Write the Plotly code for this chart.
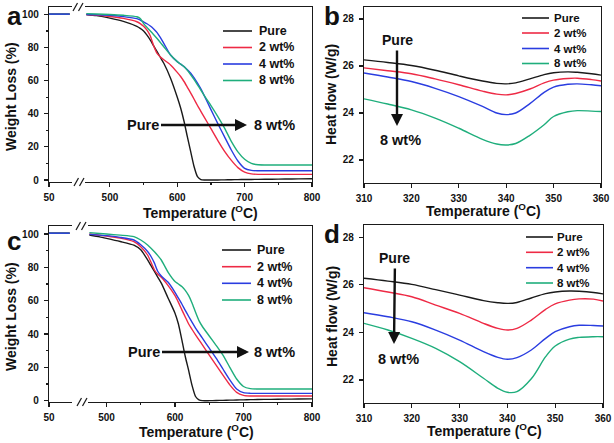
import plotly.graph_objects as go

W, H = 614, 443
FONT = "Liberation Sans, Arial, sans-serif"
INK = "#1a1a1a"

def px(x):
    return x / W

def py(y):
    return 1 - y / H

series_names = ["Pure", "2 wt%", "4 wt%", "8 wt%"]
colors = ["#1a1a1a", "#ee2a45", "#2a3de0", "#1fae7c"]

# ---------------- TGA (panels a, c) ----------------
tga_low_temp = [50, 95]
tga_a_low = [100.2, 100.2]
tga_c_low = [100.5, 100.5]

tga_a_temp = [465, 480, 500, 520, 540, 545, 550, 555, 560, 565, 570, 575, 580, 590, 600, 605,
              610, 615, 620, 625, 630, 635, 640, 650, 660, 670, 680, 690, 700, 710, 720, 740,
              760, 780, 800]
tga_a_pure = [100, 99.3, 97.8, 95.8, 92.8, 91.6, 90, 87.5, 84.5, 81, 77.5, 74, 70.5, 61.5, 50, 43.5,
              35.5, 26, 17, 8, 2, 0.3, 0, 0, 0.05, 0.1, 0.2, 0.25, 0.3, 0.35, 0.4, 0.5,
              0.6, 0.7, 0.8]
tga_a_2wt = [100, 99.6, 98.8, 97.6, 95.6, 94.5, 92.8, 90.5, 87, 81, 76.5, 74.3, 72.6, 69.5, 65, 62.5,
             59.5, 56, 52.5, 48.8, 45, 41.5, 38, 31, 24, 17.5, 12, 7.5, 4.8, 3.7, 3.4, 3.4,
             3.4, 3.4, 3.4]
tga_a_4wt = [100, 99.8, 99.5, 98.7, 97.5, 96.6, 95.5, 94.4, 93, 91.2, 89, 86, 82.5, 75.5, 71.5, 70,
             68.5, 66.6, 64.5, 61.7, 58.5, 55, 51, 42.5, 34.2, 26.2, 18.3, 11.5, 7, 5.8, 5.6, 5.6,
             5.6, 5.6, 5.6]
tga_a_8wt = [100.5, 100.3, 100, 99.5, 98.6, 97.5, 94.5, 92.2, 90, 87.8, 85.5, 83, 80.5, 75.5, 71.5, 70,
             68.5, 66.2, 63.5, 60.6, 57.5, 54.3, 51, 45, 38.5, 31.5, 23.5, 17, 12.5, 10, 9.2, 9.1,
             9.1, 9.1, 9.1]

tga_c_temp = [475, 490, 500, 520, 540, 550, 560, 565, 570, 575, 580, 590, 600, 605, 610, 615,
              620, 625, 630, 635, 640, 650, 660, 670, 680, 690, 700, 710, 720, 740, 760, 780, 800]
tga_c_pure = [99.4, 98.3, 97.4, 95.5, 93.3, 90.5, 84.5, 81, 77.5, 74, 70.5, 61.5, 52.5, 46, 36.5, 26.5,
              18, 9, 2.5, 0.5, 0, 0, 0.1, 0.2, 0.3, 0.4, 0.5, 0.6, 0.7, 0.8, 0.9, 1.0, 1.1]
tga_c_2wt = [100, 99.3, 98.8, 97.5, 95.4, 92.4, 87.4, 83, 78.4, 75.8, 74, 69, 63, 59, 54.5, 50.2,
             46, 42.7, 39.5, 36.5, 33.5, 27.3, 21.3, 15.3, 9.5, 5, 3.2, 2.8, 2.8, 2.8, 2.8, 2.8, 2.8]
tga_c_4wt = [99.8, 99.3, 99, 98, 96.4, 93.5, 89.5, 86.5, 82.5, 77.5, 74.8, 71, 65, 61.5, 58, 54.2,
             50.5, 47, 43.5, 40.5, 37.5, 31.5, 25.5, 19, 12.5, 7, 4.8, 4.4, 4.4, 4.4, 4.4, 4.4, 4.4]
tga_c_8wt = [100.8, 100.3, 100, 99.3, 98.4, 96.4, 93.4, 91.5, 89.4, 87, 84.4, 77, 71.5, 70, 68.5, 66.2,
             63, 58.5, 53, 48, 44.5, 38.8, 33.2, 27.3, 20, 13, 8.5, 7.2, 7.0, 7, 7, 7, 7]

# ---------------- DSC (panels b, d) ----------------
dsc_temp = [310, 315, 320, 325, 330, 335, 338, 340, 342, 345, 348, 350, 353, 355, 358, 360]
dsc_b_pure = [26.26, 26.15, 26.02, 25.82, 25.58, 25.36, 25.26, 25.24, 25.28, 25.45, 25.63, 25.71, 25.75, 25.73, 25.67, 25.61]
dsc_b_2wt = [25.92, 25.8, 25.67, 25.45, 25.2, 24.93, 24.8, 24.77, 24.83, 25.02, 25.28, 25.4, 25.47, 25.48, 25.42, 25.36]
dsc_b_4wt = [25.70, 25.53, 25.34, 25.05, 24.70, 24.28, 24.0, 23.93, 24.0, 24.4, 24.88, 25.1, 25.22, 25.24, 25.2, 25.16]
dsc_b_8wt = [24.6, 24.38, 24.13, 23.78, 23.35, 22.88, 22.68, 22.64, 22.7, 23.05, 23.5, 23.85, 24.05, 24.1, 24.08, 24.06]

dsc_d_pure = [26.28, 26.16, 26.02, 25.8, 25.57, 25.34, 25.25, 25.22, 25.26, 25.45, 25.63, 25.7, 25.74, 25.73, 25.68, 25.62]
dsc_d_2wt = [25.88, 25.7, 25.5, 25.15, 24.8, 24.38, 24.17, 24.1, 24.17, 24.52, 24.97, 25.2, 25.36, 25.41, 25.4, 25.32]
dsc_d_4wt = [24.83, 24.66, 24.45, 24.1, 23.68, 23.19, 22.95, 22.87, 22.94, 23.26, 23.75, 24.03, 24.24, 24.3, 24.29, 24.27]
dsc_d_8wt = [24.38, 24.1, 23.75, 23.33, 22.77, 22.07, 21.65, 21.48, 21.51, 22.05, 22.98, 23.43, 23.72, 23.79, 23.82, 23.82]

tga_ticks = [0, 20, 40, 60, 80, 100]
tga_xticks = [500, 600, 700, 800]
dsc_xticks = [310, 320, 330, 340, 350, 360]
dsc_yticks = [22, 24, 26, 28]

fig = go.Figure()

def add_lines(xs, ys_list, xa, ya, smoothing, order=(0, 1, 2, 3)):
    for i in order:
        fig.add_trace(go.Scatter(
            x=xs, y=ys_list[i], mode="lines", name=series_names[i], showlegend=False,
            line=dict(color=colors[i], width=1.4, shape="spline", smoothing=smoothing),
            xaxis=xa, yaxis=ya, hoverinfo="skip"))

low_order = (0, 1, 3, 2)  # blue drawn last on the short pre-break segment
# panel a
add_lines(tga_low_temp, [tga_a_low] * 4, "x", "y", 0, low_order)
add_lines(tga_a_temp, [tga_a_pure, tga_a_2wt, tga_a_4wt, tga_a_8wt], "x2", "y2", 0.6)
# panel b
add_lines(dsc_temp, [dsc_b_pure, dsc_b_2wt, dsc_b_4wt, dsc_b_8wt], "x3", "y3", 1.0)
# panel c
add_lines(tga_low_temp, [tga_c_low] * 4, "x4", "y4", 0, low_order)
add_lines(tga_c_temp, [tga_c_pure, tga_c_2wt, tga_c_4wt, tga_c_8wt], "x5", "y5", 0.6)
# panel d
add_lines(dsc_temp, [dsc_d_pure, dsc_d_2wt, dsc_d_4wt, dsc_d_8wt], "x6", "y6", 1.0)

tickfont = dict(family=FONT, size=10, color="#111", weight="bold")
base = dict(showline=True, linecolor=INK, linewidth=1.2, showgrid=False, zeroline=False,
            ticks="outside", ticklen=4, tickwidth=1.1, tickcolor=INK, tickfont=tickfont,
            automargin=False)

def xseg(dom, rng, ticks, anchor, minor=None):
    d = dict(base, domain=[px(dom[0]), px(dom[1])], range=rng, tickvals=ticks,
             anchor=anchor, mirror=True, ticklabelstandoff=2)
    if minor:
        d["minor"] = dict(tickvals=minor, ticklen=2, ticks="outside", tickcolor=INK)
    return d

def yleft(dom, rng, ticks, anchor, minor=None, mirror=False):
    d = dict(base, domain=[py(dom[1]), py(dom[0])], range=rng, tickvals=ticks,
             anchor=anchor, mirror=mirror, ticklabelstandoff=3)
    if minor:
        d["minor"] = dict(tickvals=minor, ticklen=2, ticks="outside", tickcolor=INK)
    return d

def yright(dom, rng, anchor):
    return dict(showline=True, linecolor=INK, linewidth=1.2, showgrid=False, zeroline=False,
                domain=[py(dom[1]), py(dom[0])], range=rng, anchor=anchor, side="right",
                ticks="", showticklabels=False, automargin=False)

tga_minor_y = [10, 30, 50, 70, 90]
tga_minor_x = [550, 650, 750]

ya_rng = [-1.2, 104.5]
yc_rng = [-0.8, 104.8]
yb_rng = [21.02, 28.51]
yd_rng = [21.03, 28.52]

fig.update_layout(
    width=W, height=H, autosize=False,
    margin=dict(l=0, r=0, t=0, b=0, autoexpand=False),
    paper_bgcolor="white", plot_bgcolor="white",
    font=dict(family=FONT, color="#111"),
    showlegend=False,
    xaxis=xseg((49, 72), [50, 100], [50], "y"),
    xaxis2=xseg((85, 312), [463, 800], tga_xticks, "y2", tga_minor_x),
    yaxis=yleft((7, 182), ya_rng, tga_ticks, "x", tga_minor_y),
    yaxis2=yright((7, 182), ya_rng, "x2"),
    xaxis3=xseg((364, 601), [310, 360], dsc_xticks, "y3"),
    yaxis3=yleft((7, 183), yb_rng, dsc_yticks, "x3", mirror=True),
    xaxis4=xseg((49, 72), [50, 100], [50], "y4"),
    xaxis5=xseg((88, 312), [473, 800], tga_xticks, "y5", tga_minor_x),
    yaxis4=yleft((226, 402), yc_rng, tga_ticks, "x4", tga_minor_y),
    yaxis5=yright((226, 402), yc_rng, "x5"),
    xaxis6=xseg((364, 603), [310, 360], dsc_xticks, "y6"),
    yaxis6=yleft((225, 403), yd_rng, dsc_yticks, "x6", mirror=True),
)

shapes = []
annotations = []

def line_px(x0, y0, x1, y1, color=INK, width=1.2):
    shapes.append(dict(type="line", xref="paper", yref="paper",
                       x0=px(x0), y0=py(y0), x1=px(x1), y1=py(y1),
                       line=dict(color=color, width=width)))

def text_px(x, y, text, size, xanchor="center", yanchor="middle", angle=0):
    annotations.append(dict(xref="paper", yref="paper", x=px(x), y=py(y), text=text,
                            showarrow=False, xanchor=xanchor, yanchor=yanchor,
                            textangle=angle,
                            font=dict(family=FONT, size=size, color="#111", weight="bold")))

def arrow_text_px(text, size, x_text, y_text, x_head, y_head):
    # label sits at the tail; arrow runs from the label to the head
    annotations.append(dict(xref="paper", yref="paper", x=px(x_head), y=py(y_head),
                            ax=x_text - x_head, ay=y_text - y_head, axref="pixel", ayref="pixel",
                            text=text, showarrow=True, arrowhead=2, arrowsize=1.0,
                            arrowwidth=2.4, arrowcolor="#111", standoff=0, startstandoff=1,
                            font=dict(family=FONT, size=size, color="#111", weight="bold")))

# axis break marks
for (gx, ytop, ybot) in [(73, 7, 182), (76, 226, 402)]:
    for dx in (0, 5.5):
        line_px(gx + dx, ytop + 4, gx + dx + 4.5, ytop - 4)
        line_px(gx + dx + 1, ybot + 4, gx + dx + 5.5, ybot - 4)

# axis titles
xt = "<b>Temperature (<sup>O</sup>C)</b>"
text_px(200, 212, xt, 14)
text_px(483, 210, xt, 14)
text_px(197, 431, xt, 14)
text_px(484, 430, xt, 14)
text_px(11, 97, "<b>Weight Loss (%)</b>", 14, angle=-90)
text_px(11, 317, "<b>Weight Loss (%)</b>", 14, angle=-90)
text_px(331, 95, "<b>Heat flow (W/g)</b>", 14, angle=-90)
text_px(332, 317, "<b>Heat flow (W/g)</b>", 14, angle=-90)

# panel letters
text_px(14, 16, "<b>a</b>", 26)
text_px(332, 16, "<b>b</b>", 26)
text_px(14, 241, "<b>c</b>", 26)
text_px(332, 234, "<b>d</b>", 26)

# legends (drawn as keys + labels)
legend_specs = [
    (223, 252, 257, [31, 47.5, 64, 80.5], 12.5),
    (522, 549, 552, [18, 33, 48.5, 63.5], 11.5),
    (222, 251, 255, [250, 266.7, 283.3, 300], 12.5),
    (526, 553, 555, [237, 252.3, 267.7, 283], 11.5),
]
for x0, x1, xt_, rows, fs in legend_specs:
    for name, c, yy in zip(series_names, colors, rows):
        line_px(x0, yy, x1, yy, color=c, width=1.6)
        text_px(xt_, yy, "<b>%s</b>" % name, fs, xanchor="left")

# trend arrows
arrow_text_px("<b>Pure</b>", 14.5, 142.5, 125, 247, 125)
text_px(274.5, 125, "<b>8 wt%</b>", 14.5)

arrow_text_px("<b>Pure</b>", 14, 397, 40, 397, 126)
text_px(400, 140, "<b>8 wt%</b>", 14.5)

arrow_text_px("<b>Pure</b>", 14.5, 143.5, 352, 249, 352)
text_px(274.7, 352, "<b>8 wt%</b>", 14.5)

arrow_text_px("<b>Pure</b>", 14, 395, 258, 394, 344)
text_px(398, 359, "<b>8 wt%</b>", 14.5)

fig.update_layout(shapes=shapes, annotations=annotations)

fig.write_html("out.html", config={"displayModeBar": False, "staticPlot": True},
               post_script="document.body.style.margin='0';document.body.style.overflow='hidden';")
